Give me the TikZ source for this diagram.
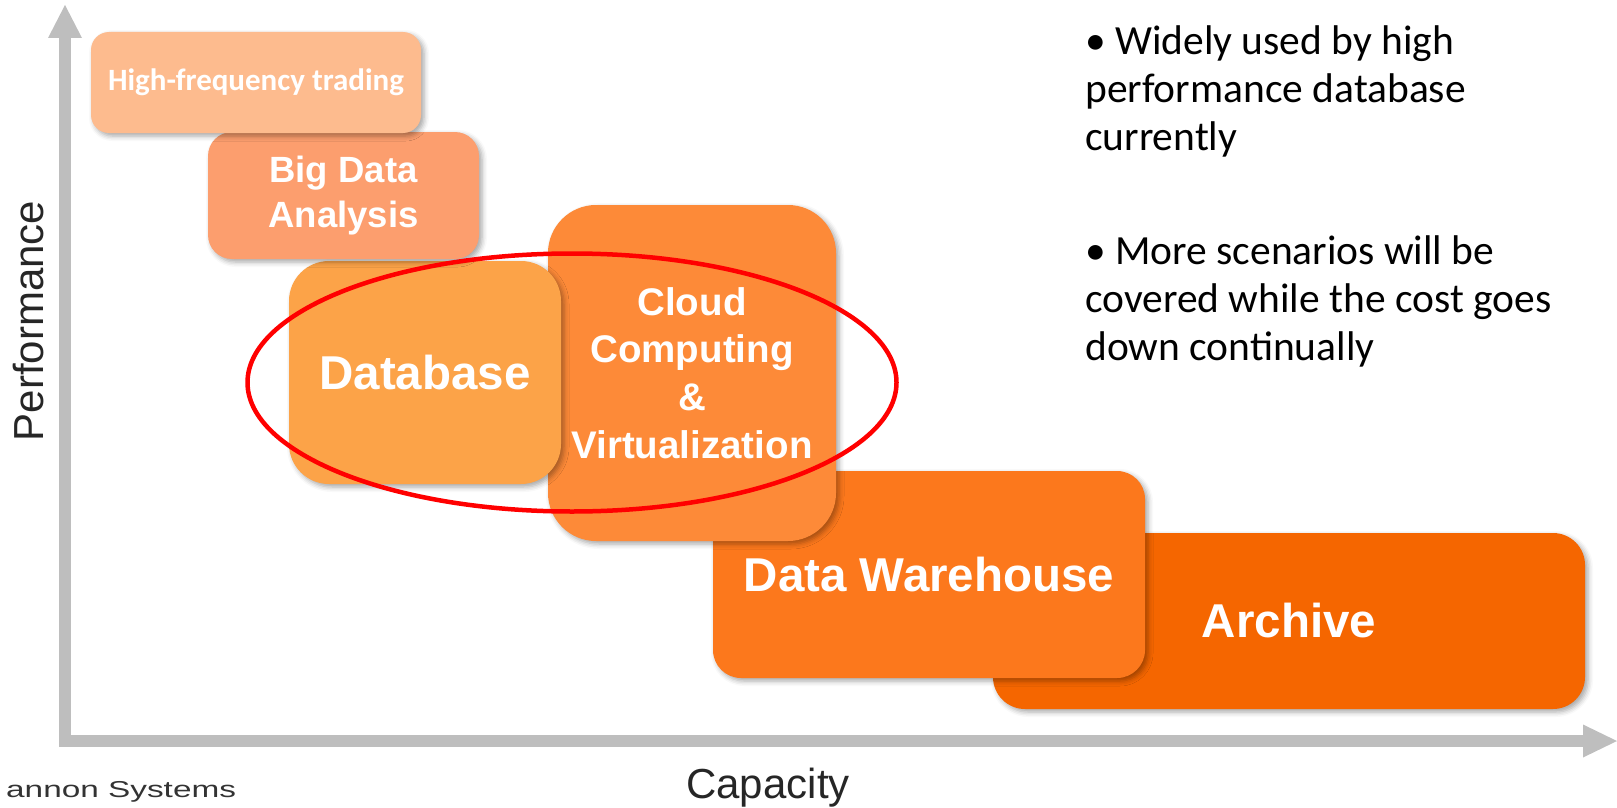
\documentclass[tikz,border=0pt]{standalone}
\usepackage{fontspec}
\usepackage{graphicx}
\setmainfont{Liberation Sans}
\newfontfamily\carlito{Carlito}
\usetikzlibrary{shadows.blur}

\definecolor{axisgray}{HTML}{BEBEBE}
\definecolor{hftfill}{HTML}{FDBB8E}
\definecolor{bigfill}{HTML}{FC9E6E}
\definecolor{dbfill}{HTML}{FCA348}
\definecolor{cloudfill}{HTML}{FD8A38}
\definecolor{dwfill}{HTML}{FC781C}
\definecolor{archfill}{HTML}{F56600}
\definecolor{ringred}{HTML}{FF0000}
\definecolor{logogray}{HTML}{333333}

\begin{document}
\begin{tikzpicture}[x=1pt,y=-1pt,
  tile/.style={rectangle, text=white, align=center, inner sep=0pt,
    blur shadow={shadow xshift=3pt, shadow yshift=-3pt,
      shadow blur radius=5pt, shadow opacity=35}},
  bigtext/.style={font=\bfseries\fontsize{47.5}{57}\selectfont},
  axislabel/.style={inner sep=0pt, font=\fontsize{42}{50}\selectfont, text=black!85},
  note/.style={inner sep=0pt, align=left, anchor=base west,
    font=\carlito\fontsize{41.5}{48}\selectfont}]
\useasboundingbox (0,0) rectangle (1617,808);

% axes
\coordinate (ytip) at (65,5);
\coordinate (ybase) at (65,38);
\coordinate (origin) at (65,741);
\coordinate (xbase) at (1583,741);
\coordinate (xtip) at (1617,741);
\draw[axisgray, line width=12pt, line join=miter] (ybase) -- (origin) -- (xbase);
\fill[axisgray] (ytip) -- ([xshift=-17pt]ybase) -- ([xshift=17pt]ybase) -- cycle;
\fill[axisgray] (xtip) -- ([yshift=16.5pt]xbase) -- ([yshift=-16.5pt]xbase) -- cycle;

\node[axislabel, rotate=90, anchor=base] (perf) at (43,321) {Performance};
\node[axislabel, anchor=base] (cap) at (768,798) {Capacity};

% application tiles, drawn from the back to the front
\node[tile, bigtext, fill=archfill, minimum width=592pt, minimum height=176pt,
  rounded corners=32pt] (archive) at (1289,621) {Archive};
\node[tile, bigtext, fill=dwfill, minimum width=432pt, minimum height=207pt,
  rounded corners=28pt] (dw) at (929,574.5) {Data Warehouse};
\node[tile, fill=cloudfill, minimum width=288pt, minimum height=336pt,
  rounded corners=48pt, font=\bfseries\fontsize{38.5}{47.7}\selectfont]
  (cloud) at (692,373) {Cloud\\Computing\\\&\\Virtualization};
\node[tile, bigtext, fill=dbfill, minimum width=272pt, minimum height=223pt,
  rounded corners=40pt] (db) at (425,372.5) {Database};
\node[tile, fill=bigfill, minimum width=271pt, minimum height=127pt,
  rounded corners=24pt, font=\bfseries\fontsize{36.5}{45}\selectfont]
  (bigdata) at (343.5,195.5) {Big Data\\Analysis};
\node[tile, fill=hftfill, minimum width=330pt, minimum height=101pt,
  rounded corners=18pt, font=\carlito\bfseries\fontsize{31}{37}\selectfont]
  (hft) at (256,82.5) {High-frequency trading};

% highlight ring
\coordinate (ringc) at (572,382.5);
\draw[ringred, line width=4.5pt] (ringc) ellipse [x radius=324.5, y radius=129];

% notes (anchored on the baseline of their last line)
\node[note] (note1) at (1085,150) {• Widely used by high\\performance database\\currently};
\node[note] (note2) at (1085,360) {• More scenarios will be\\covered while the cost goes\\down continually};

% company mark
\node[anchor=base west, inner sep=0pt, text=logogray,
  font=\fontsize{23}{27}\selectfont] (logo) at (6,797)
  {\scalebox{1.45}[1]{annon Systems}};
\end{tikzpicture}
\end{document}
